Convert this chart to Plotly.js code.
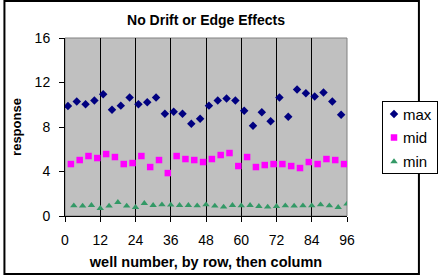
<!DOCTYPE html>
<html>
<head>
<script src="https://cdn.plot.ly/plotly-3.0.1.min.js"></script>
<style>body{margin:0;background:#fff}</style>
</head>
<body>
<div id="chart" style="width:441px;height:276px"></div>
<script>
// wells: max in 1,4,7..., mid in 2,5,8..., min in 3,6,9...
var maxWells = [], midWells = [], minWells = [];
for (var w = 1; w <= 94; w += 3) { maxWells.push(w); midWells.push(w + 1); minWells.push(w + 2); }

var maxVals = [9.89, 10.29, 10.05, 10.38, 10.95, 9.56, 9.92, 10.65, 10.05, 10.23, 10.65, 9.20, 9.38, 9.20, 8.30, 8.75,
               9.92, 10.38, 10.56, 10.38, 9.47, 8.12, 9.32, 8.51, 10.65, 8.93, 11.37, 11.04, 10.74, 11.10, 10.29, 9.11];
var midVals = [4.67, 5.03, 5.39, 5.21, 5.57, 5.30, 4.67, 4.76, 5.39, 4.40, 5.03, 3.86, 5.39, 5.12, 5.03, 4.85,
               5.12, 5.48, 5.66, 4.49, 5.30, 4.40, 4.58, 4.67, 4.67, 4.49, 4.31, 4.85, 4.67, 5.12, 5.03, 4.67];
var minVals = [0.93, 0.90, 0.96, 0.69, 0.90, 1.23, 0.90, 0.78, 1.14, 0.96, 1.02, 0.99, 0.96, 0.96, 0.93, 1.02,
               0.90, 0.81, 0.96, 0.93, 0.96, 0.87, 0.81, 0.87, 0.93, 0.90, 0.93, 0.93, 1.02, 0.93, 0.78, 1.08];

var xTicks = [0, 12, 24, 36, 48, 60, 72, 84, 96];
var yTicks = [0, 4, 8, 12, 16];

var font = "Liberation Sans, Arial, sans-serif";
var pw = 298, ph = 178; // plot area size in px

var data = [
  {x: maxWells, y: maxVals, name: "max", mode: "markers", type: "scatter",
   marker: {symbol: "diamond", size: 6.5, color: "#000080"}},
  {x: midWells, y: midVals, name: "mid", mode: "markers", type: "scatter",
   marker: {symbol: "square", size: 6.5, color: "#FF00FF"}},
  {x: minWells, y: minVals, name: "min", mode: "markers", type: "scatter",
   marker: {symbol: "triangle-up", size: 6.5, color: "#339966"}}
];

var layout = {
  width: 441,
  height: 276,
  margin: {l: 65, r: 78, t: 38, b: 60, pad: 0},
  paper_bgcolor: "#fff",
  plot_bgcolor: "#C0C0C0",
  font: {family: font, size: 14, color: "#000"},
  title: {text: "<b>No Drift or Edge Effects</b>", font: {size: 14},
          xref: "paper", x: 0.5, xanchor: "center", yref: "container", y: 0.9275, yanchor: "middle"},
  showlegend: true,
  legend: {x: 1.02, y: 0.45, xanchor: "left", yanchor: "middle", bordercolor: "#000", borderwidth: 1,
           font: {size: 15}, itemwidth: 30, tracegroupgap: 0},
  xaxis: {
    range: [0, 96], tickvals: xTicks, ticktext: xTicks.map(String),
    showgrid: true, gridcolor: "#000", gridwidth: 1,
    showline: true, linecolor: "#000", linewidth: 1,
    ticks: "outside", ticklen: 5, tickcolor: "#000", ticklabelstandoff: 6,
    zeroline: false, tickfont: {size: 14},
    title: {text: "<b>well number, by row, then column</b>", font: {size: 14.5}, standoff: 10}
  },
  yaxis: {
    range: [0, 16], tickvals: yTicks, ticktext: yTicks.map(String),
    showgrid: false,
    showline: true, linecolor: "#000", linewidth: 1,
    ticks: "outside", ticklen: 5, tickcolor: "#000", ticklabelstandoff: 6,
    zeroline: false, tickfont: {size: 14},
    title: {text: "<b>response</b>", font: {size: 13}, standoff: 10}
  },
  shapes: [
    {type: "rect", xref: "paper", yref: "paper", x0: 0, x1: 1, y0: 0, y1: 1,
     line: {color: "#808080", width: 1}, layer: "below"},
    {type: "rect", xref: "paper", yref: "paper",
     x0: -64 / pw, x1: 374 / pw, y0: -58 / ph, y1: 1 + 37 / ph,
     line: {color: "#000", width: 2}}
  ]
};

// Excel-style legend is narrower and airier than plotly's; move things into place
var legendRowY = [13.5, 37, 61];
function fixLegend(gd) {
  var leg = gd.querySelector(".legend");
  if (!leg) return;
  gd.querySelectorAll(".legend .legendtext").forEach(function (t) { t.setAttribute("x", 20); });
  gd.querySelectorAll(".legend .legendsymbols").forEach(function (s) {
    s.setAttribute("transform", "translate(-9,0)");
  });
  gd.querySelectorAll(".legend .traces").forEach(function (tr, i) {
    if (i < legendRowY.length) tr.setAttribute("transform", "translate(1," + legendRowY[i] + ")");
  });
  var bg = leg.querySelector("rect.bg");
  if (bg) { bg.setAttribute("width", 55); bg.setAttribute("height", 72); }
  var clip = gd.querySelector("[id^=legend] rect");
  leg.setAttribute("transform", "translate(382,100.5)");
  var sb = leg.querySelector(".scrollbox");
  if (sb) { sb.removeAttribute("clip-path"); sb.setAttribute("transform", "translate(0,0)"); }
}

Plotly.newPlot("chart", data, layout, {displayModeBar: false, staticPlot: true}).then(function (gd) {
  fixLegend(gd);
  gd.on("plotly_afterplot", function () { fixLegend(gd); });
  setTimeout(function () { fixLegend(gd); }, 50);
});
</script>
</body>
</html>
